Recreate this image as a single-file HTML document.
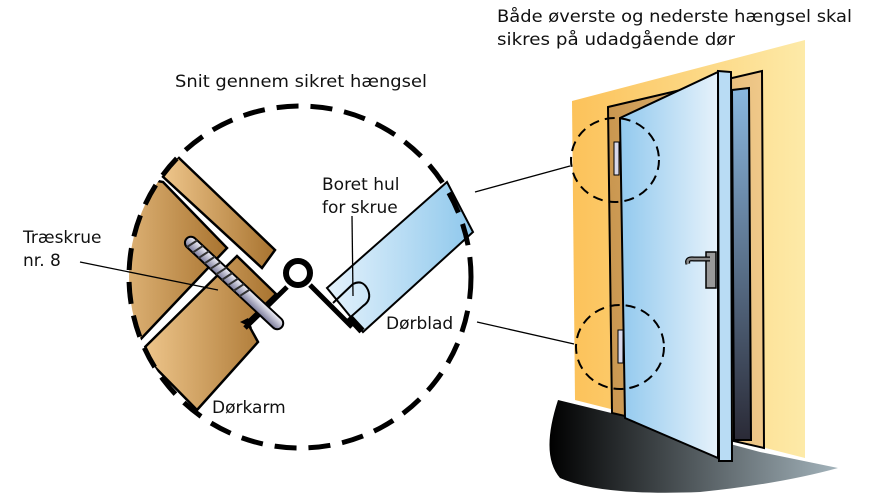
<!DOCTYPE html>
<html><head><meta charset="utf-8"><style>
html,body{margin:0;padding:0;background:#fff;}
svg{display:block;}
text{font-family:"DejaVu Sans","Liberation Sans",sans-serif;font-size:17px;fill:#111;}
</style></head><body>
<svg width="875" height="497" viewBox="0 0 875 497" xmlns="http://www.w3.org/2000/svg">
<defs>
<linearGradient id="wood" x1="0" x2="1" y1="0" y2="0"><stop offset="0" stop-color="#f0c88e"/><stop offset="1" stop-color="#a8732f"/></linearGradient>
<linearGradient id="blue" x1="0" x2="1" y1="0" y2="0"><stop offset="0" stop-color="#e4f2fc"/><stop offset="1" stop-color="#8fc8ec"/></linearGradient>
<linearGradient id="screw" x1="0" x2="0" y1="0" y2="1"><stop offset="0" stop-color="#f4f4fa"/><stop offset="1" stop-color="#7a7a9a"/></linearGradient>
<linearGradient id="wall" x1="0" x2="1"><stop offset="0" stop-color="#fcc25a"/><stop offset="1" stop-color="#fdeaa8"/></linearGradient>
<linearGradient id="floor" x1="0" x2="1"><stop offset="0" stop-color="#000"/><stop offset="1" stop-color="#a3b3bb"/></linearGradient>
<linearGradient id="door" x1="0" x2="1"><stop offset="0" stop-color="#92c9ee"/><stop offset="1" stop-color="#e6f2fb"/></linearGradient>
<linearGradient id="dark" x1="0" x2="0" y1="0" y2="1"><stop offset="0" stop-color="#8ab8e0"/><stop offset="1" stop-color="#2a2a36"/></linearGradient>
<linearGradient id="frm" x1="0" x2="1"><stop offset="0" stop-color="#c9964f"/><stop offset="1" stop-color="#f0c98a"/></linearGradient>
<clipPath id="cc"><circle cx="300" cy="277" r="171"/></clipPath>
</defs>

<text x="497" y="22" textLength="355" lengthAdjust="spacingAndGlyphs">Både øverste og nederste hængsel skal</text>
<text x="497" y="45" textLength="238" lengthAdjust="spacingAndGlyphs">sikres på udadgående dør</text>
<text x="175" y="87" textLength="252" lengthAdjust="spacingAndGlyphs">Snit gennem sikret hængsel</text>

<g clip-path="url(#cc)" stroke="#000" stroke-width="2.5" stroke-linejoin="miter">
  <polygon points="178,157 275,250 262,268 160,174" fill="url(#wood)"/>
  <polygon points="163,182 227,248 138,342 90,300 100,170" fill="url(#wood)"/>
  <polygon points="237,256 276,294 247,322 258,342 197,410 140,352" fill="url(#wood)"/>
</g>
<path d="M245,328 L287,287" stroke="#000" stroke-width="5" fill="none"/>
<path d="M240,322 l8,-4 l4,10 z" fill="#000"/>
<path d="M310,285 L352,327" stroke="#000" stroke-width="5" fill="none"/>
<polygon points="327,288 447,182 473,232 363,332" fill="url(#blue)" stroke="#000" stroke-width="2"/>
<path d="M350,318 L362,331" stroke="#000" stroke-width="7"/>
<path d="M333,303 L353,284 Q363,279 368,290 Q372,300 363,306 L345,322" fill="none" stroke="#000" stroke-width="2"/>
<circle cx="298" cy="273" r="12" fill="#fff" stroke="#000" stroke-width="6"/>
<g transform="rotate(43 188 240)">
  <rect x="186" y="234" width="130" height="12" rx="6" fill="url(#screw)" stroke="#000" stroke-width="2"/>
  <path d="M195,234 l-3,12 M203,234 l-3,12 M211,234 l-3,12 M219,234 l-3,12 M227,234 l-3,12 M235,234 l-3,12 M243,234 l-3,12 M251,234 l-3,12 M259,234 l-3,12 M267,234 l-3,12" stroke="#333" stroke-width="2"/>
</g>
<circle cx="300" cy="277" r="171" fill="none" stroke="#000" stroke-width="5" stroke-dasharray="22,12"/>
<path d="M80,262 L218,290" stroke="#000" stroke-width="1.3"/>
<path d="M352,216 L353,296" stroke="#000" stroke-width="1.3"/>
<text x="322" y="190">Boret hul</text>
<text x="322" y="213">for skrue</text>
<text x="23" y="243">Træskrue</text>
<text x="23" y="266">nr. 8</text>
<text x="386" y="329">Dørblad</text>
<text x="212" y="413">Dørkarm</text>

<path d="M475,192 L570,166 M477,322 L574,344" stroke="#000" stroke-width="1.3"/>

<polygon points="572,101 805,40 805,458 575,400" fill="url(#wall)"/>
<path d="M558,400 Q540,455 560,478 Q600,496 700,492 Q780,484 838,468 L760,452 L640,420 Z" fill="url(#floor)"/>
<polygon points="608,107 762,71 764,448 612,413" fill="url(#frm)" stroke="#000" stroke-width="2"/>
<polygon points="732,90 749,88 751,440 734,440" fill="url(#dark)" stroke="#000" stroke-width="2"/>
<polygon points="620,118 718,72 718,458 625,418" fill="url(#door)" stroke="#000" stroke-width="2"/>
<polygon points="718,71 731,72 732,461 719,461" fill="#b9dcf4" stroke="#000" stroke-width="2"/>
<rect x="706" y="252" width="10" height="36" fill="#999" stroke="#000" stroke-width="1.5"/>
<path d="M688,264 Q686,258 694,259 L710,259" stroke="#000" stroke-width="5" fill="none"/>
<path d="M688,264 Q686,258 694,259 L710,259" stroke="#888" stroke-width="2.5" fill="none"/>
<rect x="614" y="142" width="5" height="33" fill="#d8d8ea" stroke="#000" stroke-width="1"/>
<rect x="618" y="330" width="5" height="33" fill="#d8d8ea" stroke="#000" stroke-width="1"/>
<ellipse cx="615" cy="160" rx="44" ry="42" fill="none" stroke="#000" stroke-width="2" stroke-dasharray="10,6"/>
<ellipse cx="620" cy="347" rx="44" ry="42" fill="none" stroke="#000" stroke-width="2" stroke-dasharray="10,6"/>
</svg>
</body></html>
